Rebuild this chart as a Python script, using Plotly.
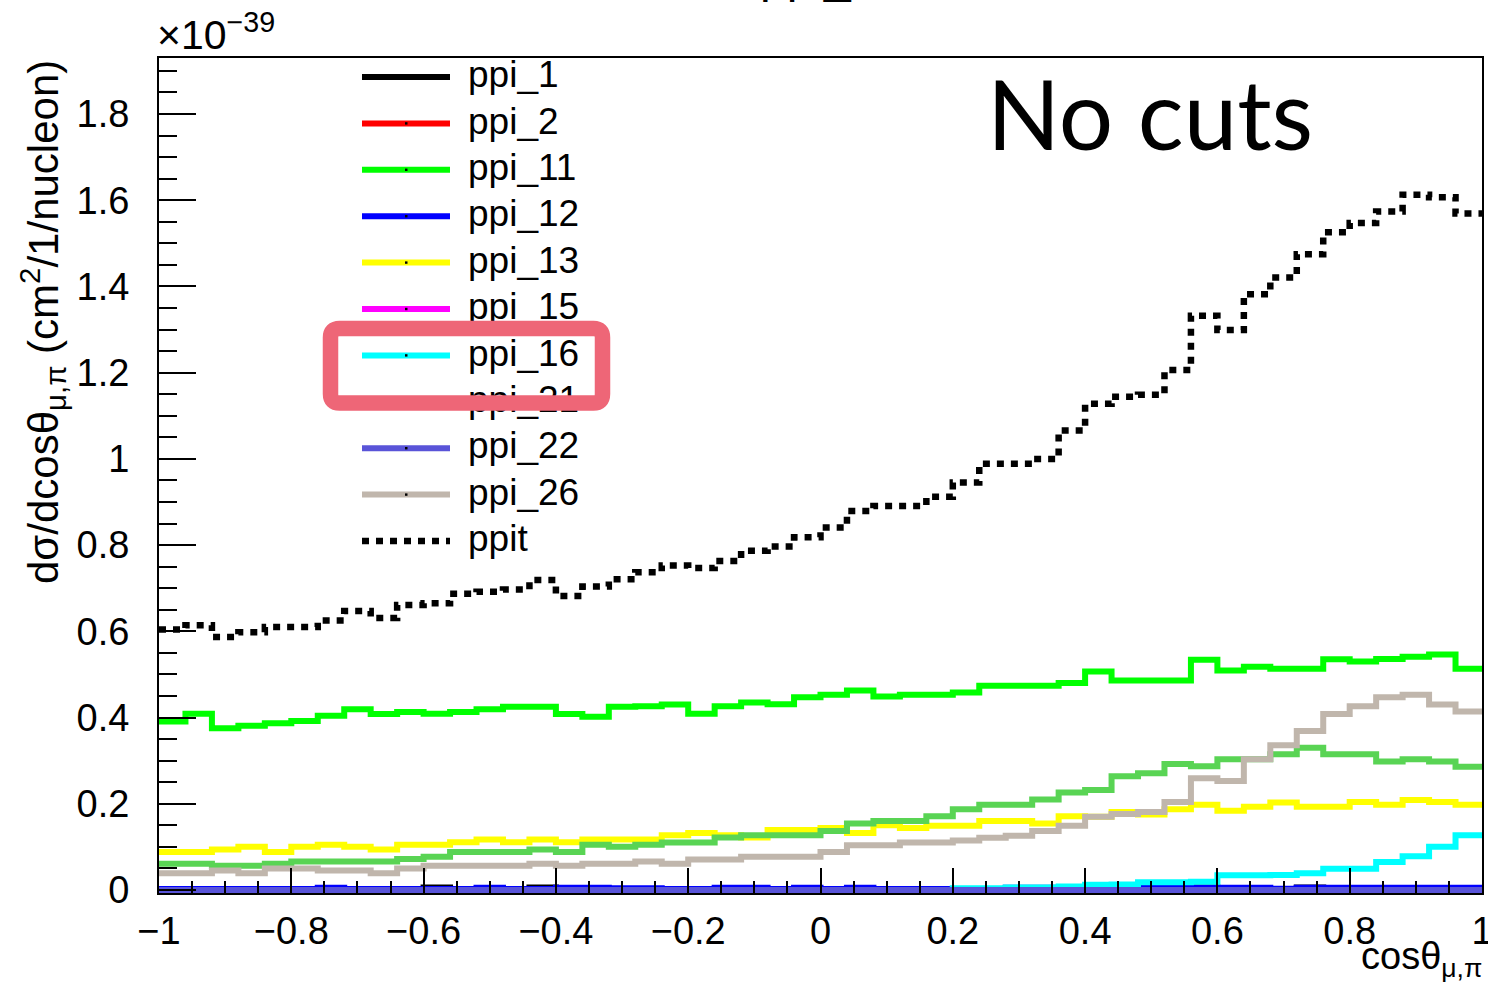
import plotly.graph_objects as go

# Binning of cos(theta_mu,pi): 50 bins on [-1, 1]
N_BINS = 50
X_MIN, X_MAX = -1.0, 1.0
edges = [X_MIN + (X_MAX - X_MIN) * i / N_BINS for i in range(N_BINS + 1)]

# dsigma/dcos(theta) per channel, in units of 1e-39 cm^2 / nucleon
ppi_1 = [0, 0, 0, 0, 0, 0, 0, 0, 0, 0,
         0.006, 0, 0, 0, 0.006, 0, 0, 0, 0, 0,
         0, 0, 0, 0, 0, 0, 0, 0, 0, 0,
         0, 0, 0, 0, 0, 0, 0, 0, 0, 0.006,
         0, 0, 0, 0.006, 0, 0, 0, 0, 0, 0]
ppi_2 = [0] * 50
ppi_11 = [0.391, 0.409, 0.375, 0.381, 0.387, 0.392, 0.404, 0.419, 0.408, 0.413,
          0.409, 0.413, 0.419, 0.425, 0.425, 0.408, 0.402, 0.425, 0.426, 0.430,
          0.409, 0.426, 0.435, 0.431, 0.447, 0.453, 0.463, 0.449, 0.453, 0.453,
          0.458, 0.474, 0.474, 0.474, 0.480, 0.507, 0.486, 0.486, 0.486, 0.534,
          0.509, 0.518, 0.513, 0.513, 0.535, 0.530, 0.536, 0.541, 0.546, 0.513]
ppi_12 = [0.002, 0.002, 0.002, 0.002, 0.002, 0.002, 0.005, 0.002, 0.002, 0.002,
          0.002, 0.002, 0.005, 0.002, 0.002, 0.005, 0.005, 0.004, 0.004, 0.002,
          0.002, 0.005, 0.005, 0.002, 0.005, 0.002, 0.005, 0.002, 0.002, 0.002,
          0.002, 0.002, 0.005, 0.005, 0.002, 0.002, 0.002, 0.005, 0.005, 0.005,
          0.005, 0.005, 0.003, 0.005, 0.005, 0.005, 0.005, 0.005, 0.005, 0.005]
ppi_13 = [0.088, 0.088, 0.094, 0.100, 0.088, 0.100, 0.105, 0.100, 0.094, 0.105,
          0.105, 0.111, 0.117, 0.111, 0.117, 0.111, 0.117, 0.117, 0.117, 0.127,
          0.132, 0.127, 0.122, 0.139, 0.139, 0.144, 0.132, 0.150, 0.144, 0.149,
          0.149, 0.160, 0.160, 0.154, 0.171, 0.170, 0.181, 0.175, 0.187, 0.198,
          0.184, 0.193, 0.203, 0.193, 0.193, 0.204, 0.198, 0.209, 0.204, 0.198]
ppi_15 = [0] * 50
ppi_16 = [0, 0, 0, 0, 0, 0, 0, 0, 0, 0,
          0, 0, 0, 0, 0, 0, 0, 0, 0, 0,
          0, 0, 0, 0, 0, 0, 0, 0, 0, 0,
          0.004, 0.004, 0.006, 0.006, 0.008, 0.012, 0.013, 0.018, 0.018, 0.019,
          0.034, 0.034, 0.035, 0.039, 0.049, 0.049, 0.065, 0.078, 0.100, 0.127]
ppi_21 = [0.061, 0.061, 0.056, 0.056, 0.061, 0.066, 0.066, 0.066, 0.066, 0.072,
          0.077, 0.088, 0.088, 0.088, 0.094, 0.088, 0.105, 0.100, 0.105, 0.110,
          0.110, 0.122, 0.127, 0.127, 0.127, 0.137, 0.154, 0.160, 0.160, 0.171,
          0.187, 0.198, 0.198, 0.210, 0.226, 0.232, 0.264, 0.271, 0.292, 0.287,
          0.303, 0.303, 0.315, 0.330, 0.315, 0.315, 0.298, 0.303, 0.298, 0.286]
ppi_22 = [0] * 50
ppi_26 = [0.039, 0.039, 0.045, 0.039, 0.050, 0.050, 0.045, 0.045, 0.039, 0.050,
          0.056, 0.056, 0.056, 0.056, 0.061, 0.056, 0.061, 0.061, 0.066, 0.061,
          0.071, 0.071, 0.077, 0.077, 0.077, 0.088, 0.104, 0.104, 0.110, 0.110,
          0.115, 0.121, 0.126, 0.137, 0.149, 0.170, 0.176, 0.181, 0.204, 0.259,
          0.253, 0.303, 0.336, 0.369, 0.408, 0.426, 0.447, 0.453, 0.430, 0.414]
ppit = [0.604, 0.614, 0.587, 0.598, 0.610, 0.610, 0.625, 0.647, 0.631, 0.661,
        0.665, 0.687, 0.692, 0.697, 0.719, 0.682, 0.704, 0.721, 0.737, 0.753,
        0.747, 0.763, 0.787, 0.797, 0.818, 0.841, 0.879, 0.891, 0.891, 0.912,
        0.945, 0.989, 0.989, 1.000, 1.066, 1.128, 1.144, 1.149, 1.206, 1.332,
        1.299, 1.382, 1.421, 1.475, 1.526, 1.547, 1.574, 1.613, 1.607, 1.569]

names = ["ppi_1", "ppi_2", "ppi_11", "ppi_12", "ppi_13", "ppi_15",
         "ppi_16", "ppi_21", "ppi_22", "ppi_26", "ppit"]
colors = ["#000000", "#ff0000", "#00ff00", "#0000ff", "#ffff00", "#ff00ff",
          "#00ffff", "#59d454", "#5954d8", "#c0b6ac", "#000000"]
values = [ppi_1, ppi_2, ppi_11, ppi_12, ppi_13, ppi_15,
          ppi_16, ppi_21, ppi_22, ppi_26, ppit]
dashes = ["solid"] * 10 + ["7px,7px"]

FONT = "Liberation Sans, Arial, Helvetica, sans-serif"
W, H = 1488, 986
ML, MR, MT, MB = 159, 6, 58, 93
PW, PH = W - ML - MR, H - MT - MB
Y_MIN, Y_MAX = -0.007, 1.93
X_HI = X_MAX + 1e-5


def px(x):
    return (x - ML) / PW


def py(y):
    return (H - MB - y) / PH


def data_x(p):
    return X_MIN + (p - ML) / PW * (X_HI - X_MIN)


def data_y(p):
    return Y_MIN + (H - MB - p) / PH * (Y_MAX - Y_MIN)


fig = go.Figure()
for name, vals, col, dash in zip(names, values, colors, dashes):
    fig.add_trace(go.Scatter(
        x=edges, y=list(vals) + [vals[-1]], mode="lines", name=name,
        line=dict(color=col, width=6.5 if name == "ppit" else 6, shape="hv", dash=dash),
        showlegend=False, hoverinfo="skip"))

shapes = []
annotations = []

# Legend (ROOT style): coloured line sample + label
LEG_Y0, LEG_DY = 77, 46.4
leg_y = [LEG_Y0 + i * LEG_DY for i in range(len(names))]
for yy, name, col, dash in zip(leg_y, names, colors, dashes):
    shapes.append(dict(type="line", xref="paper", yref="paper",
                       x0=px(362), x1=px(450), y0=py(yy), y1=py(yy),
                       line=dict(color=col, width=6.5 if name == "ppit" else 6, dash=dash),
                       layer="above"))
    if name != "ppit":
        shapes.append(dict(type="rect", xref="paper", yref="paper",
                           x0=px(405), x1=px(407.5), y0=py(yy - 1.2), y1=py(yy + 1.2),
                           line=dict(width=0), fillcolor="black", layer="above"))
fig.add_trace(go.Scatter(
    x=[data_x(468)] * len(names), y=[data_y(yy + 1) for yy in leg_y],
    mode="text", text=names, textposition="middle right",
    textfont=dict(family=FONT, size=37, color="black"),
    showlegend=False, hoverinfo="skip", cliponaxis=False))

# Rounded highlight frame around the ppi_16 entry
bx0, bx1, by0, by1, r = 330.5, 602.5, 328.5, 403, 9
path = (f"M {px(bx0 + r)},{py(by0)} L {px(bx1 - r)},{py(by0)} "
        f"Q {px(bx1)},{py(by0)} {px(bx1)},{py(by0 + r)} "
        f"L {px(bx1)},{py(by1 - r)} Q {px(bx1)},{py(by1)} {px(bx1 - r)},{py(by1)} "
        f"L {px(bx0 + r)},{py(by1)} Q {px(bx0)},{py(by1)} {px(bx0)},{py(by1 - r)} "
        f"L {px(bx0)},{py(by0 + r)} Q {px(bx0)},{py(by0)} {px(bx0 + r)},{py(by0)} Z")
shapes.append(dict(type="path", xref="paper", yref="paper", path=path,
                   line=dict(color="#ee6677", width=15.5), layer="above"))

# Axis titles and labels
annotations.append(dict(
    text="dσ/dcosθ<sub>μ,π</sub> (cm<sup>2</sup>/1/nucleon)",
    xref="paper", yref="paper", x=px(42), y=py(58), xanchor="center", yanchor="top",
    textangle=-90, showarrow=False, font=dict(family=FONT, size=42, color="black")))
annotations.append(dict(
    text="cosθ<sub>μ,π</sub>", xref="paper", yref="paper",
    x=px(1484), y=py(959), xanchor="right", yanchor="middle",
    showarrow=False, font=dict(family=FONT, size=38, color="black")))
annotations.append(dict(
    text="×10<sup>−39</sup>", xref="paper", yref="paper",
    x=px(155), y=py(32), xanchor="left", yanchor="middle",
    showarrow=False, font=dict(family=FONT, size=41, color="black")))
annotations.append(dict(
    text="No cuts", xref="paper", yref="paper",
    x=px(985), y=py(113), xanchor="left", yanchor="middle",
    showarrow=False, font=dict(family="Lato", size=96, color="black")))
annotations.append(dict(
    text="ppi_cos", xref="paper", yref="paper",
    x=px(758), y=py(-25), xanchor="left", yanchor="middle",
    showarrow=False, font=dict(family=FONT, size=48, color="black")))

axis_common = dict(
    ticks="inside", tickwidth=2, tickcolor="black",
    showline=True, linecolor="black", linewidth=2, mirror=True,
    showgrid=False, zeroline=False, ticklabeloverflow="allow", automargin=False,
    tickfont=dict(family=FONT, size=38, color="black"),
)

fig.update_layout(
    width=W, height=H,
    margin=dict(l=ML, r=MR, t=MT, b=MB, autoexpand=False),
    paper_bgcolor="white", plot_bgcolor="white",
    showlegend=False,
    shapes=shapes, annotations=annotations,
    xaxis=dict(range=[X_MIN, X_HI], tickmode="linear", tick0=-1, dtick=0.2,
               ticklen=25, ticklabelstandoff=3,
               minor=dict(tick0=-1, dtick=0.05, ticks="inside", ticklen=12,
                          tickwidth=2, tickcolor="black"),
               **axis_common),
    yaxis=dict(range=[Y_MIN, Y_MAX], tickmode="linear", tick0=0, dtick=0.2,
               ticklen=37, ticklabelstandoff=20,
               minor=dict(tick0=0, dtick=0.05, ticks="inside", ticklen=18,
                          tickwidth=2, tickcolor="black"),
               **axis_common),
)

fig.write_html("out.html")
